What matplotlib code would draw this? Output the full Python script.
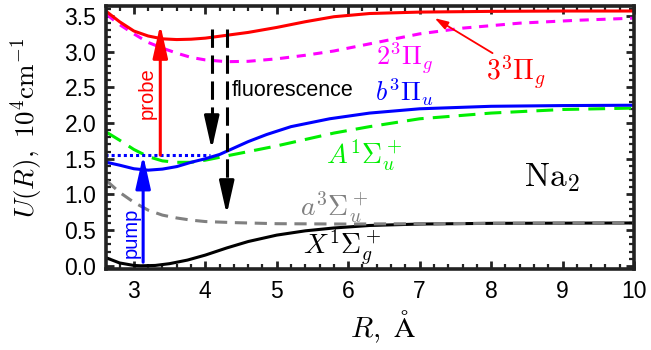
import numpy as np
import matplotlib
matplotlib.use('Agg')
import matplotlib.pyplot as plt
from matplotlib.ticker import MultipleLocator

plt.rcParams['font.family'] = ['Liberation Sans', 'DejaVu Sans']
plt.rcParams['mathtext.fontset'] = 'cm'

# potential curves: R in Angstrom, U in 1e4 cm^-1
r_33pig = [2.62, 2.8, 3.0, 3.2, 3.4, 3.6, 3.8, 4.0, 4.3, 4.6, 5.0, 5.4, 5.8,
           6.3, 7.0, 8.0, 9.0, 10.0]
u_33pig = [3.56, 3.42, 3.29, 3.22, 3.18, 3.17, 3.175, 3.19, 3.23, 3.27, 3.34,
           3.42, 3.49, 3.535, 3.555, 3.565, 3.57, 3.57]

r_23pig = [2.62, 2.8, 3.0, 3.2, 3.4, 3.6, 3.8, 4.0, 4.3, 4.6, 5.0, 5.4, 5.8,
           6.3, 7.0, 7.6, 8.4, 9.2, 10.0]
u_23pig = [3.52, 3.38, 3.25, 3.13, 3.05, 2.98, 2.92, 2.885, 2.86, 2.865, 2.9,
           2.95, 3.01, 3.11, 3.25, 3.33, 3.40, 3.44, 3.47]

r_b3piu = [2.62, 2.8, 3.0, 3.2, 3.4, 3.6, 3.8, 4.0, 4.2, 4.4, 4.6, 4.86, 5.2,
           5.74, 6.3, 7.0, 8.0, 9.0, 10.0]
u_b3piu = [1.45, 1.41, 1.36, 1.34, 1.355, 1.39, 1.45, 1.5, 1.56, 1.65, 1.74,
           1.84, 1.95, 2.06, 2.14, 2.20, 2.235, 2.245, 2.25]

r_a1sig = [2.62, 2.8, 3.0, 3.2, 3.4, 3.6, 3.8, 4.0, 4.3, 4.6, 5.0, 5.4, 5.8,
           6.3, 7.0, 8.0, 9.0, 10.0]
u_a1sig = [1.87, 1.76, 1.63, 1.53, 1.47, 1.45, 1.45, 1.48, 1.54, 1.6, 1.68,
           1.77, 1.86, 1.95, 2.06, 2.14, 2.19, 2.21]

r_a3sig = [2.62, 2.8, 3.0, 3.2, 3.4, 3.6, 3.8, 4.0, 4.4, 5.0, 6.0, 7.0, 8.0,
           10.0]
u_a3sig = [1.19, 1.03, 0.89, 0.78, 0.71, 0.67, 0.64, 0.62, 0.605, 0.59,
           0.585, 0.59, 0.595, 0.60]

r_x1sig = [2.62, 2.8, 3.0, 3.1, 3.3, 3.5, 3.75, 4.0, 4.3, 4.6, 5.0, 5.4, 5.8,
           6.3, 7.0, 8.0, 10.0]
u_x1sig = [0.11, 0.04, 0.005, 0.0, 0.005, 0.03, 0.08, 0.15, 0.25, 0.34, 0.43,
           0.49, 0.53, 0.565, 0.585, 0.595, 0.60]

# transitions
pump_r, pump_u = 3.13, (0.05, 1.55)
probe_r, probe_u = 3.37, (1.55, 3.38)
level_u, level_r_end = 1.55, 4.06
fluo_r = [4.09, 4.30]
fluo_top = 3.32
fluo_tip = [1.63, 0.72]

fig = plt.figure(figsize=(6.51, 3.5), dpi=100)
ax = fig.add_axes([0.1628, 0.2314, 0.8111, 0.7514])

lw = 2.2
ax.plot(r_x1sig, u_x1sig, color='k', lw=lw)
ax.plot(r_a3sig, u_a3sig, color='#808080', lw=lw, dashes=(4, 2.5))
ax.plot(r_a1sig, u_a1sig, color='#00ee00', lw=lw, dashes=(5.5, 3))
ax.plot(r_b3piu, u_b3piu, color='#0000ff', lw=lw)
ax.plot(r_23pig, u_23pig, color='#ff00ff', lw=lw, dashes=(3, 2.5))
ax.plot(r_33pig, u_33pig, color='#ff0000', lw=lw)

ax.plot([2.6, level_r_end], [level_u, level_u], color='#0000ff', lw=lw,
        dashes=(1, 1))

head = '-|>,head_length=2.0,head_width=0.45'
ax.annotate('', xy=(pump_r, pump_u[1]), xytext=(pump_r, pump_u[0]),
            arrowprops=dict(arrowstyle=head, color='#0000ff', lw=lw,
                            shrinkA=0, shrinkB=0))
ax.annotate('', xy=(probe_r, probe_u[1]), xytext=(probe_r, probe_u[0]),
            arrowprops=dict(arrowstyle=head, color='#ff0000', lw=lw,
                            shrinkA=0, shrinkB=0))
for r, tip in zip(fluo_r, fluo_tip):
    ax.plot([r, r], [fluo_top, tip + 0.25], color='k', lw=lw, dashes=(6, 2.5))
    ax.annotate('', xy=(r, tip), xytext=(r, tip + 0.3),
                arrowprops=dict(arrowstyle=head, color='k', lw=lw,
                                shrinkA=0, shrinkB=0))

# pointer from the 3^3Pi_g label to its curve
ax.annotate('', xy=(7.21, 3.47), xytext=(8.02, 2.98),
            arrowprops=dict(arrowstyle='-|>,head_length=0.8,head_width=0.25',
                            color='#ff0000', lw=1.3, shrinkA=0, shrinkB=0))

lab = 20
ax.text(8.35, 2.71, r'$3^3\Pi_g$', color='#ff0000', fontsize=lab,
        ha='center', va='center')
ax.text(6.79, 2.91, r'$2^3\Pi_g$', color='#ff00ff', fontsize=19,
        ha='center', va='center')
ax.text(6.79, 2.43, r'$b^3\Pi_u$', color='#0000ff', fontsize=19,
        ha='center', va='center')
ax.text(6.23, 1.55, r'$A^1\Sigma_u^+$', color='#00ee00', fontsize=lab,
        ha='center', va='center')
ax.text(5.81, 0.82, r'$a^3\Sigma_u^+$', color='#808080', fontsize=lab,
        ha='center', va='center')
ax.text(5.91, 0.25, r'$X^1\Sigma_g^+$', color='k', fontsize=lab,
        ha='center', va='center')
ax.text(8.85, 1.23, r'$\mathrm{Na}_2$', color='k', fontsize=24,
        ha='center', va='center')
ax.text(4.37, 2.46, 'fluorescence', color='k', fontsize=15.5,
        ha='left', va='center')
ax.text(3.18, 2.42, 'probe', color='#ff0000', fontsize=14.5, rotation=90,
        ha='center', va='center')
ax.text(2.96, 0.46, 'pump', color='#0000ff', fontsize=14.5, rotation=90,
        ha='center', va='center')

ax.set_xlim(2.61, 10)
ax.set_ylim(-0.045, 3.64)
ax.xaxis.set_major_locator(MultipleLocator(1))
ax.xaxis.set_minor_locator(MultipleLocator(0.2))
ax.yaxis.set_major_locator(MultipleLocator(0.5))
ax.yaxis.set_minor_locator(MultipleLocator(0.1))
ax.yaxis.set_major_formatter(matplotlib.ticker.FormatStrFormatter('%.1f'))

for s in ax.spines.values():
    s.set_linewidth(2.6)
    s.set_color('#222222')
ax.tick_params(which='both', direction='in', top=True, right=True,
               color='#222222', labelsize=16.5)
ax.tick_params(which='major', length=6, width=2)
ax.tick_params(which='minor', length=3.5, width=1.6)
ax.tick_params(axis='x', which='major', pad=8)
ax.tick_params(axis='y', which='major', pad=7)

ax.set_xlabel(r'$R,\ \mathrm{\AA}$', fontsize=21)
ax.set_ylabel(r'$U(R),\ 10^4\mathrm{cm}^{-1}$', fontsize=19.5)
# label anchors, in pixels (x label top, y label right)
ax.xaxis.set_label_coords((383 - 106) / 528, -(309 - 269) / 263)
ax.yaxis.set_label_coords(-(106 - 45) / 528, (269 - 128) / 263)

fig.savefig('out.png', dpi=100)
plt.close(fig)
